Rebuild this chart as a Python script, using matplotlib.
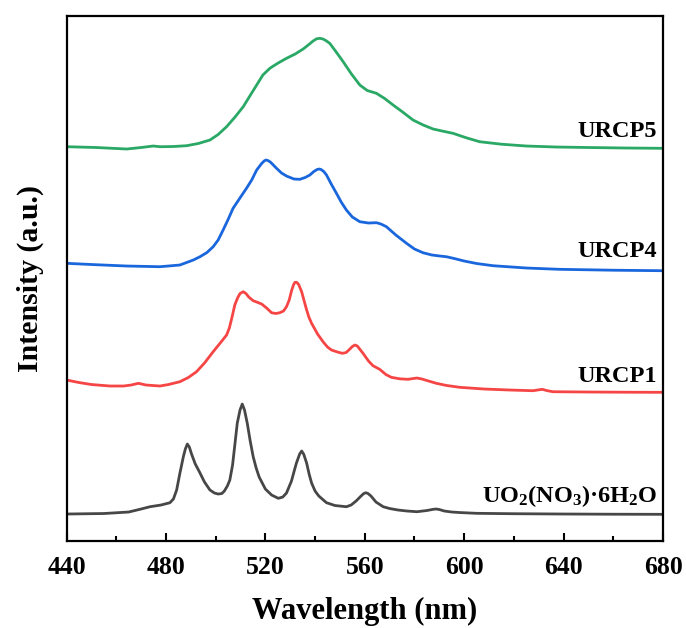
import matplotlib
matplotlib.use("Agg")
import matplotlib.pyplot as plt
from matplotlib.ticker import MultipleLocator

plt.rcParams["font.family"] = ["Liberation Serif", "DejaVu Serif"]
plt.rcParams["font.weight"] = "bold"
plt.rcParams["mathtext.fontset"] = "custom"
plt.rcParams["mathtext.rm"] = "Liberation Serif:bold"
plt.rcParams["mathtext.it"] = "Liberation Serif:bold"
plt.rcParams["mathtext.bf"] = "Liberation Serif:bold"

# emission spectra, offset stacked (arbitrary intensity units)
wl_uo2 = [440, 455, 465, 470, 473.6, 478, 481.6, 483, 484.3, 485.6, 487, 487.8, 488.6, 489.4,
          490.3, 491.8, 493.4, 495.5, 497.7, 499.5, 501, 502.5, 503.5, 504.7, 505.7, 506.8,
          507.8, 508.7, 509.8, 510.7, 511.6, 512.7, 513.9, 515.1, 516.3, 517.5, 520, 522.5,
          525.2, 527, 528.5, 530.5, 531.6, 532.5, 533.8, 534.6, 535.4, 536.6, 537.6, 538.6,
          540, 541.5, 544.6, 548, 552.6, 554.5, 556.5, 558.5, 559.6, 560.4, 561.3, 562.5,
          564.5, 567.4, 570, 573.4, 577, 581, 585, 587.5, 588.7, 590, 592, 595, 598, 605,
          620, 640, 660, 680]
int_uo2 = [27, 27.5, 29, 32, 34.3, 36, 38.3, 42, 51, 67.7, 84.3, 92, 97, 94,
           87, 77, 69.5, 59, 51, 48, 47, 47.5, 50, 55, 61, 76,
           98, 118, 131, 137, 131, 118, 100, 84.3, 73, 64, 52, 46,
           42.7, 44, 48, 60, 70, 78, 87, 90, 87, 78, 67, 58,
           50, 45, 38.3, 35.5, 34.3, 36, 40, 45, 47.5, 48.3, 47.5, 45,
           39, 34.3, 32.5, 31, 30, 29.3, 30.5, 31.7, 32, 31.5, 30, 29, 28.5, 27.7,
           27.3, 27, 26.8, 26.7]

wl_p1 = [440, 445, 450, 457.5, 463, 466, 468.9, 472, 477.6, 481, 485.6, 489, 492.3, 495.5,
         499, 502, 504.4, 505.5, 506.5, 507.7, 508.8, 509.8, 511.1, 512.2, 513.3, 515.1,
         517, 518.5, 520.5, 522.5, 524.2, 525.8, 527.3, 528.5, 529.6, 530.5, 531.3, 531.9,
         532.6, 533.4, 534.6, 535.5, 536.5, 537.5, 538.6, 541, 543.2, 545, 546.6, 549,
         551, 552.5, 553.8, 555, 556, 557, 559.3, 561.5, 563.3, 566, 568.5, 570.7, 574,
         577.4, 579.5, 581, 583, 585, 588.8, 593, 598.2, 608, 618.3, 627.7, 629.5, 631.4,
         633.5, 635.7, 650, 665, 680]
int_p1 = [161, 158.5, 156.5, 155, 155, 156, 157.7, 156, 155, 156.5, 159.3, 163.5, 169.3, 178,
          189.3, 198.5, 206, 213, 223, 236, 243, 247.5, 249.3, 247.5, 244, 240.3,
          238.5, 237, 233, 228.3, 227.5, 228.3, 230, 234.3, 241, 250, 256, 258.7,
          258.7, 256.5, 249.3, 241, 232, 224, 217.7, 207, 199.3, 194, 191, 189,
          187.7, 188.5, 191.5, 194.5, 196, 195, 187.7, 180, 175.3, 171.7, 166.5, 163.7, 162.2,
          161.7, 162.5, 163, 162, 160.5, 157.7, 155.5, 153.7, 152, 151, 150.3, 151, 151.7,
          150.3, 149.3, 149, 148.8, 148.7]

wl_p4 = [440, 450, 464.2, 477.6, 485.6, 491, 493.7, 496.5, 499, 501, 503, 505, 507, 509.5,
         512.4, 514.5, 516.5, 518.5, 519.5, 520.2, 521, 522, 524.5, 526.5, 528.5, 531.5,
         533.9, 536, 537.9, 539.5, 540.8, 541.6, 542.4, 543.5, 544.6, 546.5, 548.6, 550.5,
         552.6, 555, 558, 561.5, 564.7, 566.5, 568.7, 572.5, 576.8, 580, 583.4, 587,
         590.2, 592.8, 596, 600, 605, 611.6, 625, 638.4, 660, 680]
int_p4 = [277.7, 276.5, 275, 274.3, 276, 281, 284.3, 288.5, 294.3, 301, 311, 321.5, 332.7, 342,
          352.7, 361, 371, 377.5, 380, 381, 380.5, 379, 372.7, 368, 365, 362,
          361.7, 363.5, 366, 369.5, 371.5, 372, 371.5, 369.5, 366, 357, 347.7, 339,
          331, 324, 319.3, 318, 318.3, 317, 314.3, 306, 297.7, 292, 288.3, 286,
          285, 284.3, 282.5, 280, 277.5, 275.3, 273, 271.7, 270.8, 270.3]

wl_p5 = [440, 452, 464.2, 470, 474.9, 477.6, 483, 488.3, 493, 497.7, 501, 504.4, 507.8,
         511.1, 514, 516.5, 519, 521.8, 525, 528.5, 532, 535.2, 537.5, 539.2, 540.6,
         541.9, 543.2, 544.5, 545.9, 548.5, 551.3, 554.5, 558, 561, 564.7, 568, 571.4,
         575.5, 579.4, 583.5, 587.5, 591.5, 595.5, 600.5, 606.2, 615, 625, 637, 650, 665, 680]
int_p5 = [394.3, 393.5, 392, 393.5, 395, 394.3, 394.5, 395.3, 397.5, 401, 406.5, 414.3, 424,
          434.3, 446, 456, 466, 472.7, 477.8, 482.7, 487, 492, 496.5, 500, 502.2,
          502.7, 502, 500.2, 497.7, 489, 479.3, 467.5, 456, 450.5, 447.7, 442.5, 436,
          428.5, 421, 416, 412, 409.8, 407.7, 403.5, 399.3, 396.8, 395, 394, 393.5, 393, 392.7]

labels = ["URCP5", "URCP4", "URCP1", r"UO$_2$(NO$_3$)·6H$_2$O"]
label_y = [404, 284, 159, 39]
colors = ["#2aa865", "#1a66dd", "#f54545", "#474747"]

fig = plt.figure(figsize=(6.86, 6.28), dpi=100)
ax = fig.add_axes([0.097, 0.1385, 0.8695, 0.8368])

series = [(wl_p5, int_p5), (wl_p4, int_p4), (wl_p1, int_p1), (wl_uo2, int_uo2)]
for (x, y), c in zip(series, colors):
    ax.plot(x, y, color=c, lw=2.0, solid_joinstyle="round")

for lab, yy in zip(labels, label_y):
    ax.text(677.5, yy, lab, ha="right", va="baseline", fontsize=17.5, fontweight="bold")

ax.set_xlim(440, 680)
ax.set_ylim(0, 525.5)
ax.xaxis.set_major_locator(MultipleLocator(40))
ax.xaxis.set_minor_locator(MultipleLocator(20))
ax.set_yticks([])
ax.tick_params(axis="x", which="major", direction="in", length=6, width=1.5,
               labelsize=18.5, pad=11)
ax.tick_params(axis="x", which="minor", direction="in", length=3.5, width=1.5)
for s in ax.spines.values():
    s.set_linewidth(1.6)

ax.set_xlabel("Wavelength (nm)", fontsize=22, fontweight="bold", labelpad=13)
ax.set_ylabel("Intensity (a.u.)", fontsize=21.5, fontweight="bold", labelpad=16)

plt.savefig("out.png", dpi=100)
